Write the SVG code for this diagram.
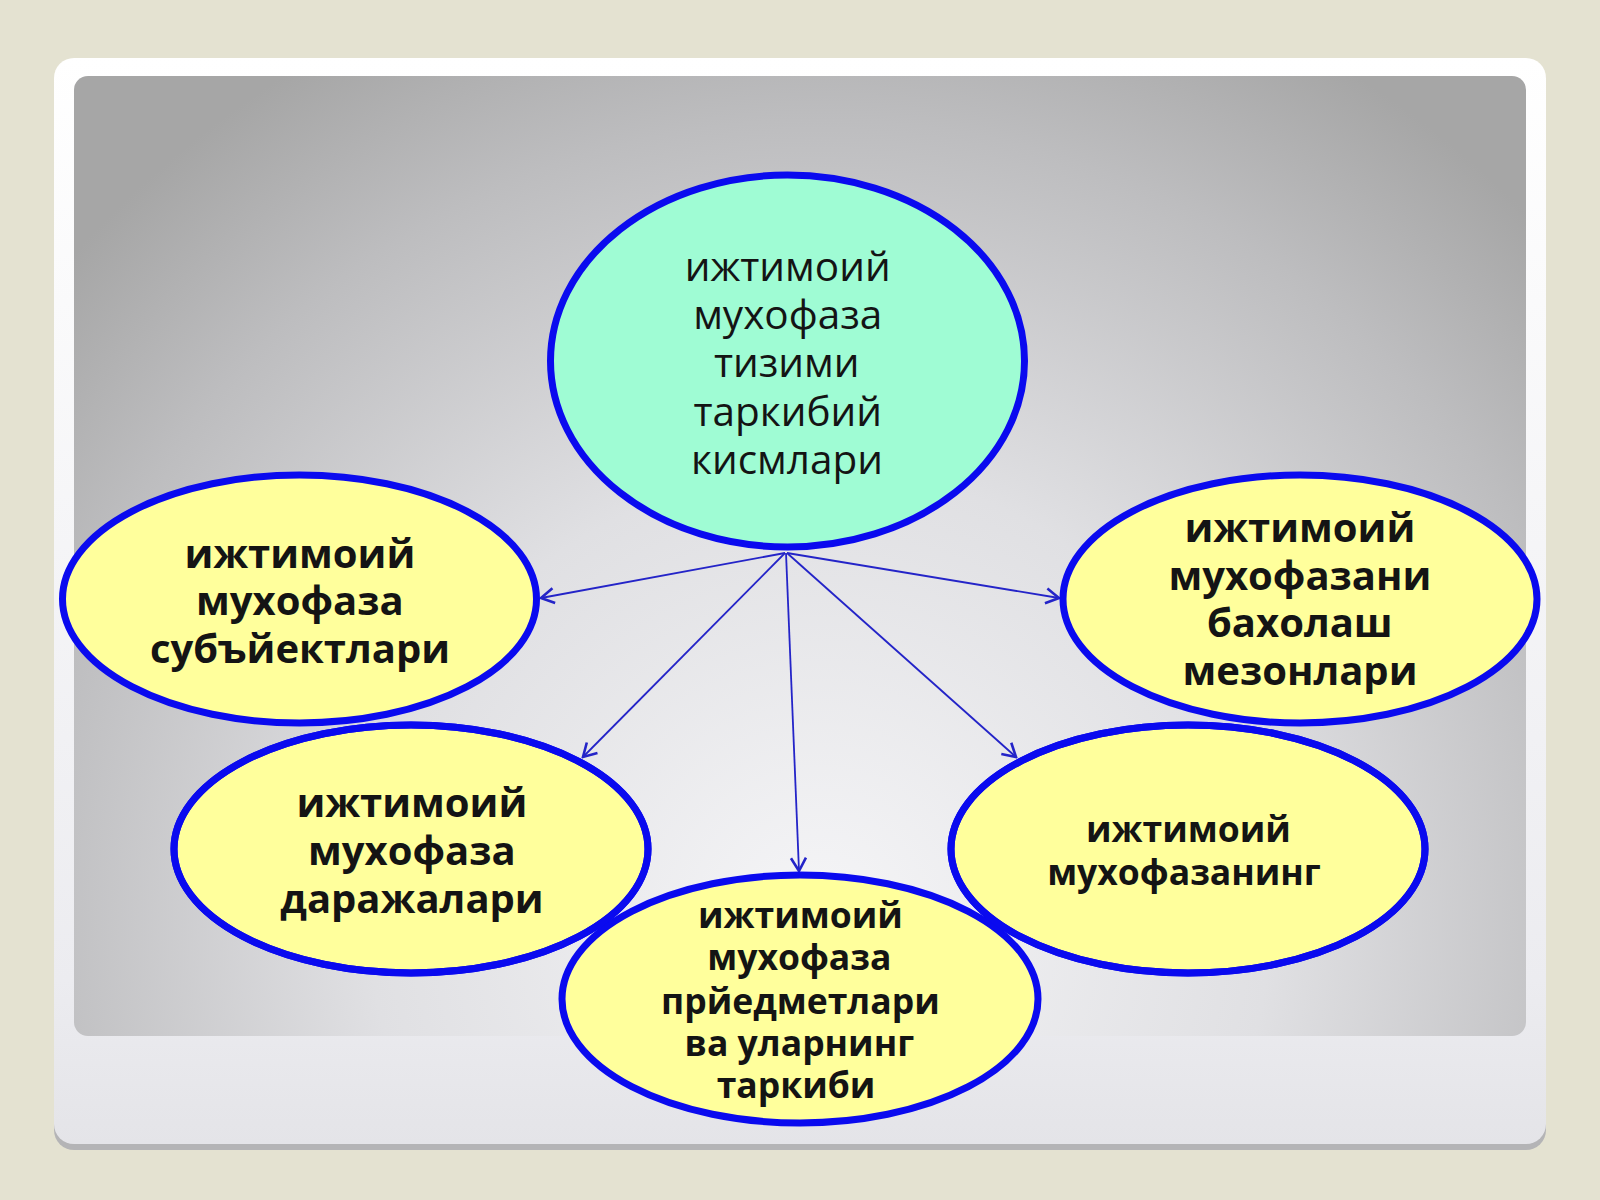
<svg xmlns="http://www.w3.org/2000/svg" xmlns:xlink="http://www.w3.org/1999/xlink" width="1600" height="1200" viewBox="0 0 1600 1200">
  <style>
    .sky { fill: #9ffcd4; stroke: #0a0aef; stroke-width: 7; }
    .sun { fill: #ffff9c; stroke: #0a0aef; stroke-width: 7; }
    .outline { fill: none; stroke: #0a0aef; stroke-width: 7; }
    .conn { stroke: #2424c8; stroke-width: 1.8; fill: none; marker-end: url(#arrow); }
    .t { font-family: "Open Sans", "Noto Sans", "DejaVu Sans", sans-serif; fill: #141414; text-anchor: middle; }
    .reg { font-size: 40.5px; font-weight: 400; }
    .bl { font-size: 40px; font-weight: 700; }
    .bs { font-size: 35.5px; font-weight: 700; }
  </style>
  <defs>
    <radialGradient id="panelGrad" gradientUnits="userSpaceOnUse" cx="820" cy="920" r="1000">
      <stop offset="0" stop-color="#f5f5f7"/>
      <stop offset="0.45" stop-color="#e0e0e3"/>
      <stop offset="0.8" stop-color="#bdbdbf"/>
      <stop offset="1" stop-color="#a6a6a6"/>
    </radialGradient>
    <linearGradient id="cardGrad" x1="0" y1="0" x2="0" y2="1">
      <stop offset="0" stop-color="#ffffff"/>
      <stop offset="0.85" stop-color="#ececf0"/>
      <stop offset="1" stop-color="#e4e4e8"/>
    </linearGradient>
    <marker id="arrow" viewBox="-15 -10 17 20" refX="0" refY="0" markerWidth="17" markerHeight="20" markerUnits="userSpaceOnUse" orient="auto">
      <path d="M-13,-7.5 L0,0 L-13,7.5" fill="none" stroke="#2424c8" stroke-width="2.6" stroke-linejoin="miter"/>
    </marker>
    <ellipse id="shape-center" cx="787.5" cy="361" rx="237" ry="186"/>
    <ellipse id="shape-n1" cx="299.5" cy="599" rx="237" ry="124"/>
    <ellipse id="shape-n2" cx="411" cy="849" rx="237" ry="124"/>
    <ellipse id="shape-n3" cx="800" cy="999" rx="238" ry="124"/>
    <ellipse id="shape-n4" cx="1188" cy="849" rx="237" ry="124"/>
    <ellipse id="shape-n5" cx="1300" cy="599" rx="237" ry="124"/>
  </defs>

  <g id="background">
    <rect x="0" y="0" width="1600" height="1200" fill="#e4e2d1"/>
    <rect x="54" y="62" width="1492" height="1088" rx="20" fill="#b4b4b6"/>
    <rect x="54" y="58" width="1492" height="1086" rx="20" fill="url(#cardGrad)"/>
    <rect x="74" y="76" width="1452" height="960" rx="14" fill="url(#panelGrad)"/>
  </g>

  <g id="connectors">
    <line class="conn" x1="785" y1="553" x2="541" y2="598"/>
    <line class="conn" x1="785" y1="553" x2="583" y2="757"/>
    <line class="conn" x1="786" y1="553" x2="799" y2="871"/>
    <line class="conn" x1="787" y1="553" x2="1016" y2="757"/>
    <line class="conn" x1="787" y1="553" x2="1059" y2="598"/>
  </g>

  <g id="node-center">
    <use xlink:href="#shape-center" class="sky"/>
    <text class="t reg">
      <tspan x="793" y="281">ижтимоий</tspan>
      <tspan x="793" y="329">мухофаза</tspan>
      <tspan x="792" y="377">тизими</tspan>
      <tspan x="793" y="426">таркибий</tspan>
      <tspan x="787" y="474">кисмлари</tspan>
    </text>
  </g>

  <g id="node-subjects">
    <use xlink:href="#shape-n1" class="sun"/>
    <text class="t bl">
      <tspan x="305" y="568">ижтимоий</tspan>
      <tspan x="305" y="615">мухофаза</tspan>
      <tspan x="300" y="663">субъйектлари</tspan>
    </text>
  </g>

  <g id="node-levels">
    <use xlink:href="#shape-n2" class="sun"/>
    <text class="t bl">
      <tspan x="417" y="817">ижтимоий</tspan>
      <tspan x="417" y="865">мухофаза</tspan>
      <tspan x="412" y="913">даражалари</tspan>
    </text>
  </g>

  <g id="node-social">
    <use xlink:href="#shape-n4" class="sun"/>
    <text class="t bs">
      <tspan x="1193" y="842">ижтимоий</tspan>
      <tspan x="1184" y="885">мухофазанинг</tspan>
    </text>
  </g>

  <g id="node-criteria">
    <use xlink:href="#shape-n5" class="sun"/>
    <text class="t bl">
      <tspan x="1305" y="542">ижтимоий</tspan>
      <tspan x="1305" y="590">мухофазани</tspan>
      <tspan x="1305" y="637">бахолаш</tspan>
      <tspan x="1300" y="685">мезонлари</tspan>
    </text>
  </g>

  <g id="node-objects">
    <use xlink:href="#shape-n3" class="sun"/>
    <use xlink:href="#shape-n2" class="outline"/>
    <use xlink:href="#shape-n4" class="outline"/>
    <text class="t bs">
      <tspan x="805" y="928">ижтимоий</tspan>
      <tspan x="804" y="970">мухофаза</tspan>
      <tspan x="805" y="1014">прйедметлари</tspan>
      <tspan x="804" y="1056">ва уларнинг</tspan>
      <tspan x="796" y="1098">таркиби</tspan>
    </text>
  </g>
</svg>
